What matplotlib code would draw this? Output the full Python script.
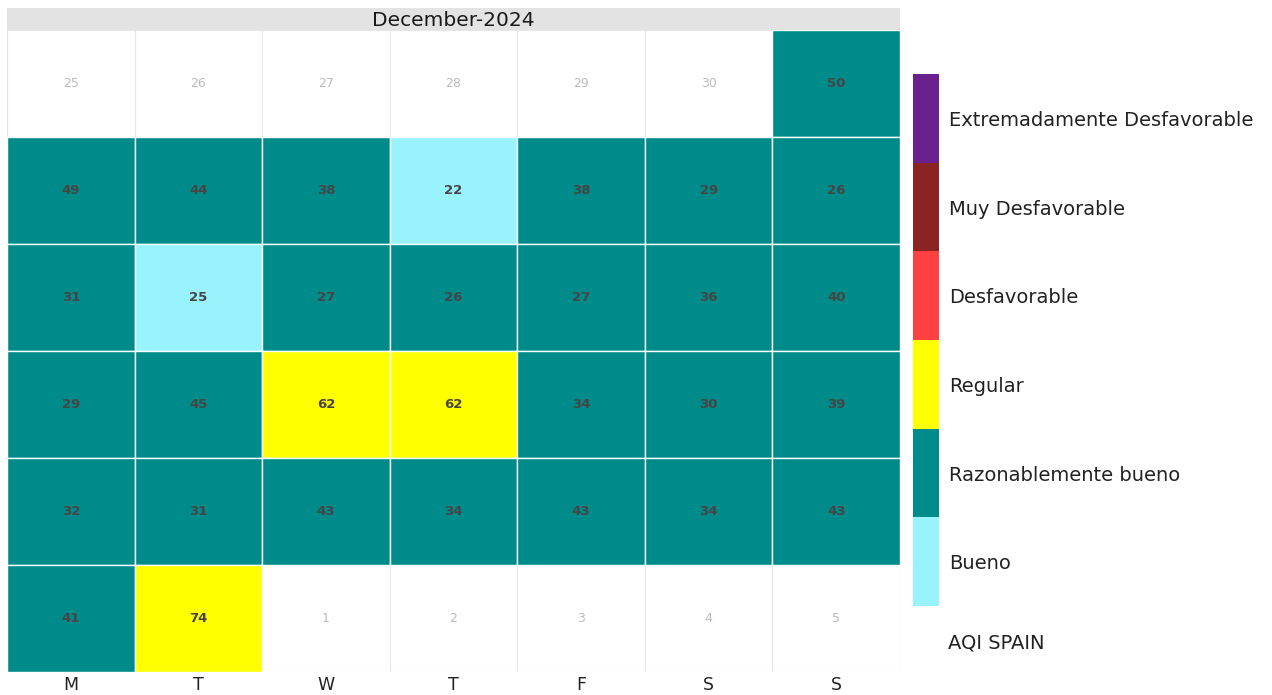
import matplotlib.pyplot as plt
from matplotlib.colors import ListedColormap, BoundaryNorm
from matplotlib.cm import ScalarMappable
from matplotlib.patches import Rectangle
import numpy as np
import pandas as pd

month_title = "December-2024"
weekday_labels = ["M", "T", "W", "T", "F", "S", "S"]
# daily AQI for December 2024 (day 1 .. 31)
aqi_values = [50, 49, 44, 38, 22, 38, 29, 26, 31, 25, 27, 26, 27, 36, 40, 29,
              45, 62, 62, 34, 30, 39, 32, 31, 43, 34, 43, 34, 43, 41, 74]
category_labels = ["Bueno", "Razonablemente bueno", "Regular", "Desfavorable",
                   "Muy Desfavorable", "Extremadamente Desfavorable"]
category_colors = ["#98F3FC", "#008B8B", "#FFFF00", "#FF4040", "#8B2323", "#69228D"]
category_bounds = [0, 26, 51, 101, 151, 201, 301]
legend_title = "AQI SPAIN"

W, H = 1272, 695
fig = plt.figure(figsize=(W / 100, H / 100), dpi=100, facecolor="white")
plt.rcParams["font.family"] = "DejaVu Sans"

cmap = ListedColormap(category_colors)
norm = BoundaryNorm(category_bounds, cmap.N)

# calendar grid: weeks start on Monday
dates = pd.date_range("2024-11-25", "2025-01-05", freq="D")
n_rows = len(dates) // 7

ax = fig.add_axes([7 / W, 1 - 672 / H, 893 / W, 642 / H])
ax.set_xlim(0, 7)
ax.set_ylim(n_rows, 0)
for k in range(8):
    ax.axvline(k, color="#E6E6E6", lw=0.8, zorder=0)
for k in range(n_rows + 1):
    ax.axhline(k, color="#E6E6E6", lw=0.8, zorder=0)

for i, d in enumerate(dates):
    row, col = divmod(i, 7)
    if d.month == 12:
        val = aqi_values[d.day - 1]
        ax.add_patch(Rectangle((col, row), 1, 1, facecolor=cmap(norm(val)),
                               edgecolor="white", lw=1.0, zorder=1))
        ax.text(col + 0.5, row + 0.5, str(val), ha="center", va="center",
                fontsize=9.5, fontweight="bold", color="#454545", zorder=2)
    else:
        ax.text(col + 0.5, row + 0.5, str(d.day), ha="center", va="center",
                fontsize=9, color="#BBBBBB", zorder=2)

ax.set_xticks(np.arange(7) + 0.5)
ax.set_xticklabels(weekday_labels, fontsize=12.5, color="#222222")
ax.set_yticks([])
ax.tick_params(axis="x", length=0, pad=3)
for s in ax.spines.values():
    s.set_visible(False)

# month strip on top
tax = fig.add_axes([7 / W, 1 - 30 / H, 893 / W, 22 / H])
tax.set_facecolor("#E3E3E3")
tax.set_xticks([])
tax.set_yticks([])
for s in tax.spines.values():
    s.set_visible(False)
tax.text(0.5, 0.45, month_title, ha="center", va="center", fontsize=14.5,
         color="#1A1A1A", transform=tax.transAxes)

# category legend as a stepped colour bar
cax = fig.add_axes([913 / W, 1 - 606 / H, 26 / W, 532 / H])
sm = ScalarMappable(norm=BoundaryNorm(np.arange(len(category_labels) + 1), cmap.N), cmap=cmap)
cb = fig.colorbar(sm, cax=cax, ticks=np.arange(len(category_labels)) + 0.5)
cb.set_ticklabels(category_labels)
cb.outline.set_visible(False)
cax.minorticks_off()
cax.tick_params(which="both", length=0, pad=7, labelsize=14, labelcolor="#222222")

fig.text(948 / W, 1 - 643 / H, legend_title, ha="left", va="center",
         fontsize=14, color="#222222")

fig.savefig("out.png", dpi=100)
